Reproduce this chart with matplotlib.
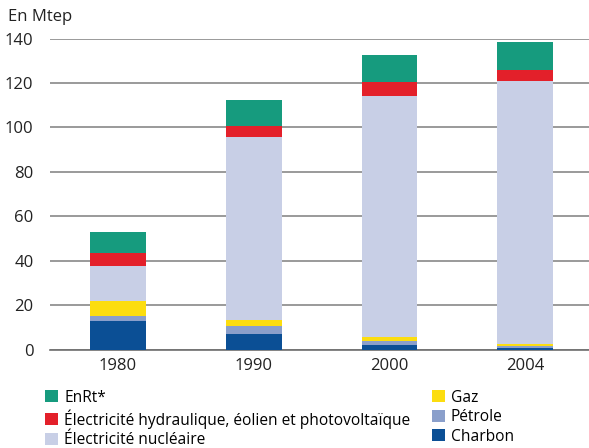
import matplotlib
matplotlib.use('Agg')
import matplotlib.pyplot as plt
import numpy as np

plt.rcParams['font.family'] = ['Open Sans', 'DejaVu Sans']

# --- data (Mtep) ---
years = ['1980', '1990', '2000', '2004']
charbon = [13.1, 7.2, 2.3, 0.9]
petrole = [2.2, 3.6, 1.8, 0.9]
gaz = [6.5, 2.7, 1.5, 1.0]
nucleaire = [15.7, 82.2, 108.6, 117.9]
hydro = [6.2, 4.8, 6.2, 5.3]
enrt = [9.3, 11.9, 12.3, 12.3]

series = [
    ('Charbon', charbon, '#0b4f95'),
    ('Pétrole', petrole, '#8a9fcb'),
    ('Gaz', gaz, '#fcdd0f'),
    ('Électricité nucléaire', nucleaire, '#c8cfe6'),
    ('Électricité hydraulique, éolien et photovoltaïque', hydro, '#e3202a'),
    ('EnRt*', enrt, '#169b7e'),
]

fig = plt.figure(figsize=(5.89, 4.48), dpi=100)
ax = fig.add_axes([0.085, 0.219, 0.915, 0.695])

x = np.arange(len(years))
bottom = np.zeros(len(years))
handles = {}
for name, vals, col in series:
    b = ax.bar(x, vals, width=0.41, bottom=bottom, color=col, zorder=3)
    handles[name] = b
    bottom += np.array(vals)

ax.set_ylim(0, 140)
ax.set_xlim(-0.5, 3.47)
ax.set_yticks(range(0, 141, 20))
ax.set_xticks(x)
ax.set_xticklabels(years)
ax.yaxis.grid(True, color='#9a9a9a', linewidth=1.4, zorder=0)
ax.set_axisbelow(True)
for s in ['top', 'right', 'left']:
    ax.spines[s].set_visible(False)
ax.spines['bottom'].set_color('#6e6e6e')
ax.spines['bottom'].set_linewidth(1.2)
ax.tick_params(axis='both', length=0, labelsize=12, colors='#222222', pad=12)
ax.tick_params(axis='x', pad=6)

fig.text(0.014, 0.962, 'En Mtep', fontsize=12, color='#222222', va='center')

left_names = ['EnRt*', 'Électricité hydraulique, éolien et photovoltaïque', 'Électricité nucléaire']
right_names = ['Gaz', 'Pétrole', 'Charbon']
leg_kw = dict(frameon=False, fontsize=11.2, handlelength=0.8, handleheight=0.8,
              handletextpad=0.4, labelspacing=0.22, borderpad=0, borderaxespad=0)
fig.legend([handles[n] for n in left_names], left_names, loc='upper left',
           bbox_to_anchor=(0.077, 0.13), **leg_kw)
fig.legend([handles[n] for n in right_names], right_names, loc='upper left',
           bbox_to_anchor=(0.734, 0.13), **leg_kw)

fig.savefig('out.png', dpi=100)
